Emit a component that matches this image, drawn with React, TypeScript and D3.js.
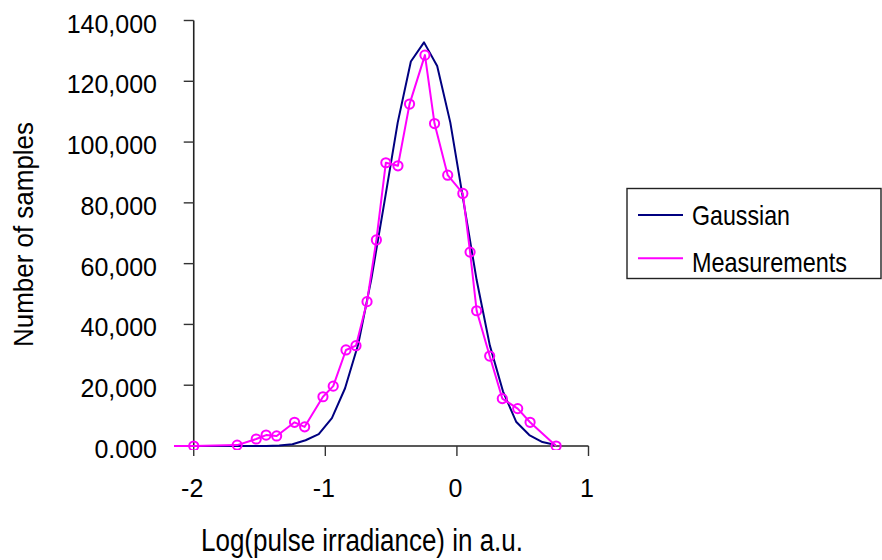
import React from "react";
import * as d3 from "d3";

// Gaussian fit, sampled every 0.1 in log irradiance
const gaussX = [-2.15, -2.05, -1.95, -1.85, -1.75, -1.65, -1.55, -1.45, -1.35, -1.25, -1.15, -1.05, -0.95, -0.85, -0.75, -0.65, -0.55, -0.45, -0.35, -0.25, -0.15, -0.05, 0.05, 0.15, 0.25, 0.35, 0.45, 0.55, 0.65, 0.75];
const gaussY = [0, 0, 0, 0, 0, 0, 10, 30, 160, 600, 1900, 3900, 9200, 19000, 33500, 55000, 80500, 106400, 126500, 132800, 125000, 106400, 80500, 54600, 33100, 18000, 8000, 3600, 1300, 300];

// Measured histogram
const measX = [-2.3, -2.0, -1.67, -1.525, -1.45, -1.37, -1.234, -1.157, -1.018, -0.94, -0.843, -0.767, -0.683, -0.612, -0.54, -0.448, -0.36, -0.243, -0.17, -0.07, 0.045, 0.1, 0.15, 0.249, 0.345, 0.462, 0.556, 0.754];
const measY = [0, 0, 300, 2300, 3600, 3300, 7800, 6300, 16200, 19700, 31600, 33000, 47500, 67800, 93200, 92200, 112500, 128600, 106100, 89100, 83100, 63800, 44500, 29600, 15600, 12300, 7800, 0];

const xTicks = [-2, -1, 0, 1];
const xTickLabels = ["-2", "-1", "0", "1"];
const yTicks = [0, 20000, 40000, 60000, 80000, 100000, 120000, 140000];
const yTickLabels = ["0.000", "20,000", "40,000", "60,000", "80,000", "100,000", "120,000", "140,000"];

const seriesNames = ["Gaussian", "Measurements"];
const seriesColors = ["#000080", "#FF00FF"];

const FONT = "'Liberation Sans', Arial, sans-serif";

export default function App() {
  const left = 174;
  const right = 588.5;
  const top = 20.5;
  const bottom = 446;

  const x = d3.scaleLinear().domain([-2.15, 1]).range([left, right]);
  const y = d3.scaleLinear().domain([0, 140000]).range([bottom, top]);
  const yAxisX = x(-2);

  const line = d3
    .line<[number, number]>()
    .x((d) => x(d[0]))
    .y((d) => y(d[1]));

  const gauss: [number, number][] = gaussX.map((v, i) => [v, gaussY[i]]);
  const meas: [number, number][] = measX.map((v, i) => [v, measY[i]]);

  return (
    <svg
      width={882}
      height={560}
      style={{ position: "absolute", left: 0, top: 0, background: "#fff" }}
      fontFamily={FONT}
    >
      <defs>
        <clipPath id="plot-clip">
          <rect x={left} y={0} width={right - left + 2} height={bottom + 4} />
        </clipPath>
      </defs>

      {/* axes */}
      <line x1={left} x2={right} y1={bottom} y2={bottom} stroke="#222" strokeWidth={1.6} />
      <line x1={yAxisX} x2={yAxisX} y1={top} y2={bottom} stroke="#222" strokeWidth={1.6} />
      {yTicks.map((t, i) => (
        <g key={"y" + t}>
          <line x1={yAxisX - 10} x2={yAxisX} y1={y(t)} y2={y(t)} stroke="#333" strokeWidth={1.4} />
          <text x={157} y={y(t) + 12} textAnchor="end" fontSize={25} fill="#000">
            {yTickLabels[i]}
          </text>
        </g>
      ))}
      {xTicks.map((t, i) => (
        <g key={"x" + t}>
          <line x1={x(t)} x2={x(t)} y1={bottom} y2={bottom + 10} stroke="#333" strokeWidth={1.4} />
          <text x={x(t) - 1.5} y={497} textAnchor="middle" fontSize={25} fill="#000">
            {xTickLabels[i]}
          </text>
        </g>
      ))}

      {/* series */}
      <g clipPath="url(#plot-clip)">
        <path d={line(gauss) || ""} fill="none" stroke={seriesColors[0]} strokeWidth={2} strokeLinejoin="round" />
        <path d={line(meas) || ""} fill="none" stroke={seriesColors[1]} strokeWidth={2} strokeLinejoin="round" />
        {meas.map((d, i) => (
          <circle key={i} cx={x(d[0])} cy={y(d[1])} r={4.6} fill="none" stroke={seriesColors[1]} strokeWidth={2} />
        ))}
      </g>

      {/* axis titles */}
      <text
        transform={`translate(33,234.5) rotate(-90)`}
        textAnchor="middle"
        fontSize={28}
        textLength={225}
        lengthAdjust="spacingAndGlyphs"
        fill="#000"
      >
        Number of samples
      </text>
      <text
        x={362}
        y={551}
        textAnchor="middle"
        fontSize={31}
        textLength={322}
        lengthAdjust="spacingAndGlyphs"
        fill="#000"
      >
        Log(pulse irradiance) in a.u.
      </text>

      {/* legend */}
      <rect x={627} y={188.5} width={254} height={90} fill="#fff" stroke="#222" strokeWidth={1.4} />
      {seriesNames.map((name, i) => (
        <g key={name}>
          <line x1={638} x2={683} y1={215 + i * 43.3} y2={215 + i * 43.3} stroke={seriesColors[i]} strokeWidth={2} />
          <text
            x={692}
            y={225 + i * 46.5}
            fontSize={28}
            textLength={i === 0 ? 98 : 155}
            lengthAdjust="spacingAndGlyphs"
            fill="#000"
          >
            {name}
          </text>
        </g>
      ))}
    </svg>
  );
}
